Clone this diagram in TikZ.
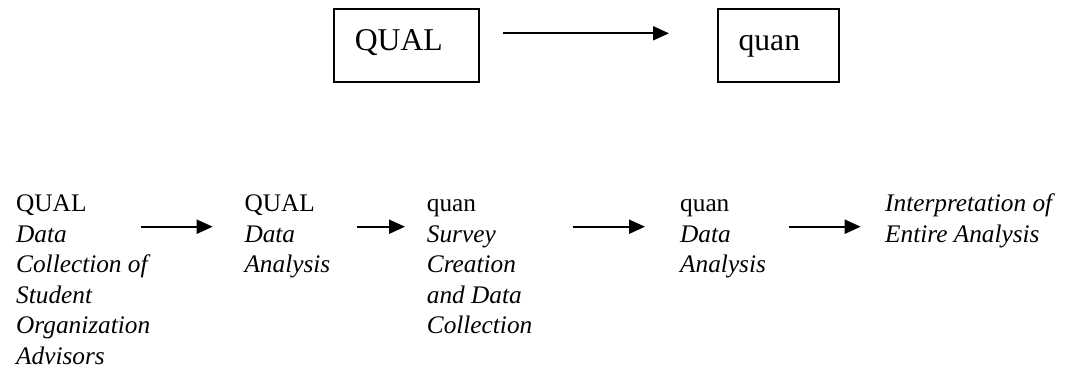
\documentclass[tikz,border=0pt]{standalone}
\usepackage{fontspec}
\setmainfont{Liberation Serif}
\usetikzlibrary{arrows.meta}
\tikzset{
  phasebox/.style={draw, line width=1.6pt, anchor=base west, inner ysep=0pt,
    text height=41pt, text depth=32pt, align=left,
    font=\fontsize{31.7}{38}\selectfont},
  stagecol/.style={anchor=base west, inner sep=0pt,
    font=\fontsize{25.3}{30.5}\selectfont},
  flow/.style={line width=2pt, -{Triangle[length=16pt,width=14pt]}}
}
\begin{document}
\begin{tikzpicture}[x=1pt,y=-1pt]
\useasboundingbox (0,0) rectangle (1092,368);

% top row: sequence of the two phases
\node[phasebox, inner xsep=21pt, text width=103pt] (topqual) at (333,50) {QUAL};
\node[phasebox, inner xsep=20.7pt, text width=79.6pt] (topquan) at (717,50) {quan};
\path (topqual.east |- 0,33.3) ++(23,0) coordinate (ts)
      (topquan.west |- 0,33.3) ++(-48,0) coordinate (te);
\draw[flow] (ts) -- (te);

% bottom row: stages of the procedure
\node[stagecol] (s1) at (16,211.7) {\vtop{\hbox{QUAL}\hbox{\itshape Data}\hbox{\itshape Collection of}\hbox{\itshape Student}\hbox{\itshape Organization}\hbox{\itshape Advisors}}};
\node[stagecol] (s2) at (244.3,211.7) {\vtop{\hbox{QUAL}\hbox{\itshape Data}\hbox{\itshape Analysis}}};
\node[stagecol] (s3) at (426.7,211.7) {\vtop{\hbox{quan}\hbox{\itshape Survey}\hbox{\itshape Creation}\hbox{\itshape and Data}\hbox{\itshape Collection}}};
\node[stagecol] (s4) at (680,211.7) {\vtop{\hbox{quan}\hbox{\itshape Data}\hbox{\itshape Analysis}}};
\node[stagecol] (s5) at (885,211.7) {\vtop{\hbox{\itshape Interpretation of}\hbox{\itshape Entire Analysis}}};

% arrow end points between the stages
\coordinate (a1s) at (141.3,226.7); \coordinate (a1e) at (212.7,226.7);
\coordinate (a2s) at (357.3,226.7); \coordinate (a2e) at (405,226.7);
\coordinate (a3s) at (572.7,226.7); \coordinate (a3e) at (645,226.7);
\coordinate (a4s) at (789.3,226.7); \coordinate (a4e) at (860.7,226.7);
\draw[flow] (a1s) -- (a1e);
\draw[flow] (a2s) -- (a2e);
\draw[flow] (a3s) -- (a3e);
\draw[flow] (a4s) -- (a4e);
\end{tikzpicture}
\end{document}
